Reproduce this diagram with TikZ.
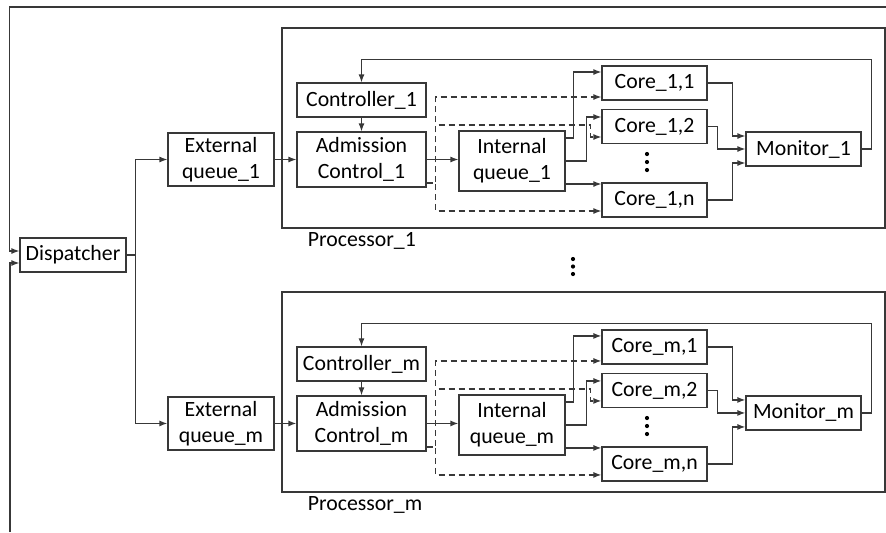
\documentclass[tikz,border=0pt]{standalone}
\usepackage{fontspec}
\setmainfont{Carlito}
\usepackage{tikz}
\usetikzlibrary{arrows.meta,positioning}
\definecolor{linegray}{HTML}{383838}
\tikzstyle{block} = [rectangle, draw=linegray, line width=0.7pt, align=center,
    inner sep=0pt, minimum height=0.68cm]
\tikzstyle{procbox} = [rectangle, draw=linegray, line width=0.7pt,
    minimum width=12.06cm, minimum height=4cm]
\tikzstyle{arrow} = [draw=linegray, line width=0.7pt, -{Latex[length=0.16cm,width=0.12cm]}]
\tikzstyle{dasharrow} = [arrow, dash pattern=on 0.12cm off 0.08cm]

\begin{document}
\begin{tikzpicture}[x=0.02cm, y=-0.02cm, node distance=5.28cm,
    font=\fontsize{12.4}{14.6}\selectfont]
\useasboundingbox (0,0) rectangle (886,532);

% processor 1
\node[procbox] (proc1) at (583.5,128) {};
\node[anchor=north west, inner sep=0.08cm] (plabel1) at ([xshift=0.44cm]proc1.south west) {Processor\_1};
\node[block, minimum width=2.12cm] (disp) at (73,255) {Dispatcher};
\node[block, minimum width=2.12cm, minimum height=1.06cm] (ext1) at (221,159.5) {External\\queue\_1};
\node[block, minimum width=2.58cm] (ctrl1) at (361.5,100) {Controller\_1};
\node[block, minimum width=2.58cm, minimum height=1.1cm] (adm1) at (361.5,159.5) {Admission\\Control\_1};
\node[block, minimum width=2.12cm, minimum height=1.2cm] (iq1) at (512,161) {Internal\\queue\_1};
\node[block, minimum width=2.1cm] (core11) at (654.5,83) {Core\_1,1};
\node[block, minimum width=2.1cm] (core12) at (654.5,126.5) {Core\_1,2};
\node[block, minimum width=2.1cm] (core1n) at (654.5,200) {Core\_1,n};
\node[block, minimum width=2.3cm] (mon1) at (803.5,149) {Monitor\_1};

% processor m
\node[procbox, below of=proc1] (procm) {};
\node[anchor=north west, inner sep=0.08cm] (plabelm) at ([xshift=0.44cm]procm.south west) {Processor\_m};
\node[block, minimum width=2.12cm, minimum height=1.06cm, below of=ext1] (extm) {External\\queue\_m};
\node[block, minimum width=2.58cm, below of=ctrl1] (ctrlm) {Controller\_m};
\node[block, minimum width=2.58cm, minimum height=1.1cm, below of=adm1] (admm) {Admission\\Control\_m};
\node[block, minimum width=2.12cm, minimum height=1.2cm, below of=iq1] (iqm) {Internal\\queue\_m};
\node[block, minimum width=2.1cm, below of=core11] (corem1) {Core\_m,1};
\node[block, minimum width=2.1cm, below of=core12] (corem2) {Core\_m,2};
\node[block, minimum width=2.1cm, below of=core1n] (coremn) {Core\_m,n};
\node[block, minimum width=2.3cm, below of=mon1] (monm) {Monitor\_m};

% dots
\fill (647,154) circle (2.1) (647,162) circle (2.1) (647,170) circle (2.1);
\fill (647,418) circle (2.1) (647,426) circle (2.1) (647,434) circle (2.1);
\fill (573,259) circle (2.1) (573,266.5) circle (2.1) (573,274) circle (2.1);

% outer loop
\coordinate (loopin) at (886,7);
\coordinate (loopout) at (10,532);
\draw[arrow] (loopin) -| ([xshift=-0.2cm,yshift=0.08cm]disp.west) -- ([yshift=0.08cm]disp.west);
\draw[arrow] (loopout) |- ([yshift=-0.16cm]disp.west);
\draw[arrow] (disp.east) -- ++(9,0) |- (ext1.west);
\draw[arrow] (disp.east) -- ++(9,0) |- (extm.west);

% processor 1 links
\draw[arrow] (ext1) -- (adm1);
\draw[arrow] (ctrl1) -- (adm1);
\draw[arrow] (adm1.east) -- (adm1.east -| iq1.west);
\draw[dasharrow] ([yshift=-0.47cm]adm1.east) -- ++(9,0) |- ([yshift=-0.28cm]core11.west);
\draw[dasharrow] ([yshift=-0.47cm]adm1.east) -- ++(9,0)
  |- ([xshift=-0.22cm,yshift=0.03cm]core12.west) |- ([yshift=-0.21cm]core12.west);
\draw[dasharrow] ([yshift=-0.47cm]adm1.east) -- ++(9,0) |- ([yshift=-0.22cm]core1n.west);
\draw[arrow] ([yshift=0.46cm]iq1.east) -- ++(8,0) |- ([yshift=0.22cm]core11.west);
\draw[arrow] (iq1.east) -- ++(21,0) |- ([yshift=0.19cm]core12.west);
\draw[arrow] ([yshift=-0.46cm]iq1.east) -- ([yshift=-0.46cm]iq1.east -| core1n.west);
\draw[arrow] (core11.east) -- ++(25,0) |- ([yshift=0.26cm]mon1.west);
\draw[arrow] (core12.east) -- ++(10,0) |- (mon1.west);
\draw[arrow] (core1n.east) -- ++(25,0) |- ([yshift=-0.28cm]mon1.west);
\draw[arrow] (mon1.east) -- ++(10,0) |- ([yshift=0.46cm]ctrl1.north) -- (ctrl1.north);

% processor m links
\draw[arrow] (extm) -- (admm);
\draw[arrow] (ctrlm) -- (admm);
\draw[arrow] (admm.east) -- (admm.east -| iqm.west);
\draw[dasharrow] ([yshift=-0.47cm]admm.east) -- ++(9,0) |- ([yshift=-0.28cm]corem1.west);
\draw[dasharrow] ([yshift=-0.47cm]admm.east) -- ++(9,0)
  |- ([xshift=-0.22cm,yshift=0.03cm]corem2.west) |- ([yshift=-0.21cm]corem2.west);
\draw[dasharrow] ([yshift=-0.47cm]admm.east) -- ++(9,0) |- ([yshift=-0.22cm]coremn.west);
\draw[arrow] ([yshift=0.46cm]iqm.east) -- ++(8,0) |- ([yshift=0.22cm]corem1.west);
\draw[arrow] (iqm.east) -- ++(21,0) |- ([yshift=0.19cm]corem2.west);
\draw[arrow] ([yshift=-0.46cm]iqm.east) -- ([yshift=-0.46cm]iqm.east -| coremn.west);
\draw[arrow] (corem1.east) -- ++(25,0) |- ([yshift=0.26cm]monm.west);
\draw[arrow] (corem2.east) -- ++(10,0) |- (monm.west);
\draw[arrow] (coremn.east) -- ++(25,0) |- ([yshift=-0.28cm]monm.west);
\draw[arrow] (monm.east) -- ++(10,0) |- ([yshift=0.46cm]ctrlm.north) -- (ctrlm.north);
\end{tikzpicture}
\end{document}
